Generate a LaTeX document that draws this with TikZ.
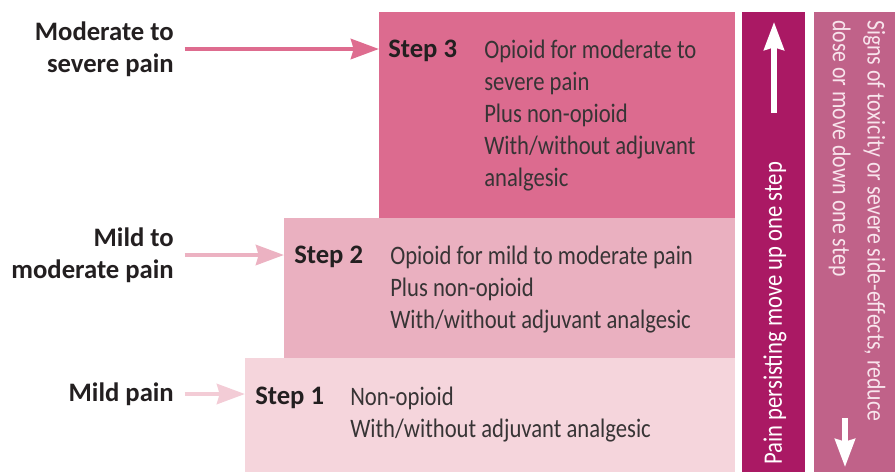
\documentclass[tikz,border=0pt]{standalone}
\usepackage{fontspec}
\setmainfont{Carlito}
\newfontfamily\bodyfont{Carlito}[FakeStretch=0.85]
\usetikzlibrary{arrows.meta,positioning}
\definecolor{stepthree}{RGB}{220,107,143}
\definecolor{steptwo}{RGB}{234,176,192}
\definecolor{stepone}{RGB}{245,213,220}
\definecolor{arrowthree}{RGB}{222,108,143}
\definecolor{arrowtwo}{RGB}{236,178,194}
\definecolor{arrowone}{RGB}{243,204,214}
\definecolor{barup}{RGB}{170,25,100}
\definecolor{bardown}{RGB}{192,98,137}
\definecolor{labelblack}{RGB}{35,31,32}
\definecolor{bodygray}{RGB}{55,52,53}
\definecolor{downtext}{RGB}{248,228,236}

\begin{document}
\begin{tikzpicture}[x=0.75pt,y=-0.75pt,
  stepbox/.style={draw=none, anchor=north west, inner sep=0, outer sep=0},
  steptitle/.style={anchor=base west, inner sep=0, font=\bfseries\fontsize{20}{24}\selectfont, text=labelblack},
  stepbody/.style={anchor=north west, align=left, inner sep=0, font=\bodyfont\fontsize{20}{24}\selectfont, text=bodygray},
  painlabel/.style={anchor=east, align=right, inner sep=0, font=\bfseries\fontsize{20}{24}\selectfont, text=labelblack},
  painarrow/.style={line width=3.4pt, -{Stealth[length=21pt, width=15pt, inset=2pt]}},
  bararrow/.style={white, line width=4pt, -{Stealth[length=21pt, width=15pt, inset=2pt]}},
  bartext/.style={inner sep=0, font=\bodyfont\fontsize{19.2}{26}\selectfont}
]
\useasboundingbox (0,0) rectangle (895,472);

% the three steps
\node[stepbox, fill=stepthree, minimum width=267pt, minimum height=154.5pt] (box3) at (379,12) {};
\node[stepbox, fill=steptwo, minimum width=338.25pt, minimum height=105pt] (box2) at (284,218) {};
\node[stepbox, fill=stepone, minimum width=367.5pt, minimum height=85.5pt] (box1) at (245,358) {};

\node[steptitle] (t3) at (388,57) {Step 3};
\node[stepbody] (b3) at (484,0 |- t3.north) {Opioid for moderate to\\severe pain\\Plus non-opioid\\With/without adjuvant\\analgesic};
\node[steptitle] (t2) at (294,263) {Step 2};
\node[stepbody] (b2) at (390,0 |- t2.north) {Opioid for mild to moderate pain\\Plus non-opioid\\With/without adjuvant analgesic};
\node[steptitle] (t1) at (255,404) {Step 1};
\node[stepbody] (b1) at (350,0 |- t1.north) {Non-opioid\\With/without adjuvant analgesic};

% pain levels
\node[painlabel] (lab3) at (174,49) {Moderate to\\severe pain};
\node[painlabel] (lab2) at (174,255) {Mild to\\moderate pain};
\node[painlabel] (lab1) at (174,394) {Mild pain};
\draw[painarrow, arrowthree] ([xshift=8pt]lab3.east) -- (lab3.east -| box3.west);
\draw[painarrow, arrowtwo] ([xshift=8pt]lab2.east) -- (lab2.east -| box2.west);
\draw[painarrow, arrowone] ([xshift=8pt]lab1.east) -- (lab1.east -| box1.west);

% side bars
\node[stepbox, fill=barup, minimum width=47.25pt, minimum height=345pt] (bar1) at (742,12) {};
\node[stepbox, fill=bardown, minimum width=60.75pt, minimum height=345pt] (bar2) at (814,12) {};

\coordinate (uptail) at (774,113);
\coordinate (uptip) at (774,22);
\draw[bararrow] (uptail) -- (uptip);
\node[bartext, text=white, rotate=90, anchor=west, font=\bodyfont\fontsize{20}{24}\selectfont] (uptxt) at (775,465) {Pain persisting move up one step};

\node[bartext, text=downtext, rotate=-90, anchor=west, align=left] (downtxt) at (857,20) {Signs of toxicity or severe side-effects, reduce\\dose or move down one step};
\coordinate (downtail) at (845,418);
\coordinate (downtip) at (845,467);
\draw[bararrow] (downtail) -- (downtip);
\end{tikzpicture}
\end{document}
